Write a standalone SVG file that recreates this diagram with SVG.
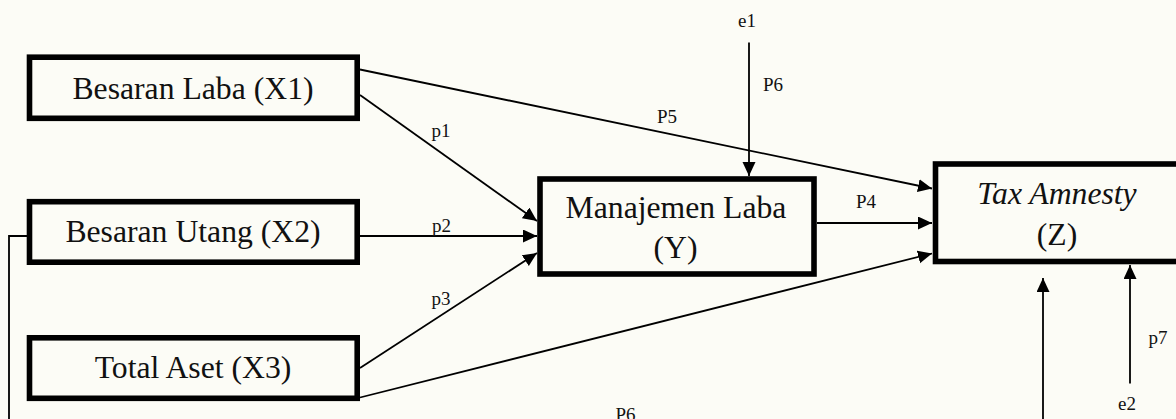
<svg xmlns="http://www.w3.org/2000/svg" width="1176" height="419" viewBox="0 0 1176 419">
  <style>
    .box { fill: #fcfcf6; stroke: #000; stroke-width: 5.6; }
    .big { font-family: "Liberation Serif", "Times New Roman", serif; font-size: 31.7px; fill: #111; text-anchor: middle; }
    .lbl { font-family: "Liberation Serif", "Times New Roman", serif; font-size: 19px; fill: #111; text-anchor: middle; }
    .ln { fill: none; stroke: #000; stroke-width: 1.8; }
    .arr { marker-end: url(#head); }
  </style>
  <defs>
    <marker id="head" markerUnits="userSpaceOnUse" markerWidth="15" markerHeight="14" refX="14" refY="6.5" orient="auto">
      <path d="M0,0 L14,6.5 L0,13 z" fill="#000"/>
    </marker>
  </defs>

  <rect width="1176" height="419" fill="#fcfcf6"/>

  <!-- connectors -->
  <g id="connectors">
    <line class="ln arr" x1="360" y1="95" x2="537" y2="221"/>
    <line class="ln arr" x1="360" y1="236" x2="537" y2="236"/>
    <line class="ln arr" x1="360" y1="368" x2="537" y2="253"/>
    <line class="ln arr" x1="360" y1="69.5" x2="932" y2="188.5"/>
    <line class="ln arr" x1="817" y1="223" x2="932" y2="223"/>
    <line class="ln arr" x1="360" y1="397.5" x2="932" y2="253.5"/>
    <line class="ln arr" x1="749" y1="42.5" x2="749" y2="176"/>
    <line class="ln arr" x1="1130" y1="383.5" x2="1130" y2="265"/>
    <line class="ln arr" x1="1043" y1="419" x2="1043" y2="278"/>
    <polyline class="ln" points="27,236 9,236 9,419"/>

    <text class="lbl" x="747" y="27">e1</text>
    <text class="lbl" x="773" y="91">P6</text>
    <text class="lbl" x="667" y="122.5">P5</text>
    <text class="lbl" x="441" y="136.5">p1</text>
    <text class="lbl" x="441.5" y="231.5">p2</text>
    <text class="lbl" x="441" y="305">p3</text>
    <text class="lbl" x="866" y="207.5">P4</text>
    <text class="lbl" x="1158" y="343.5">p7</text>
    <text class="lbl" x="1127" y="410">e2</text>
    <text class="lbl" x="625.5" y="420.5">P6</text>
  </g>

  <g id="x1">
    <rect class="box" x="29.5" y="57.2" width="327.7" height="61.1"/>
    <text class="big" x="193" y="99">Besaran Laba (X1)</text>
  </g>

  <g id="x2">
    <rect class="box" x="29.5" y="201.7" width="327.7" height="60.5"/>
    <text class="big" x="193" y="242.3">Besaran Utang (X2)</text>
  </g>

  <g id="x3">
    <rect class="box" x="29.5" y="337.8" width="327.7" height="60.5"/>
    <text class="big" x="193" y="378">Total Aset (X3)</text>
  </g>

  <g id="y">
    <rect class="box" x="540" y="179" width="274" height="95" stroke-width="6"/>
    <text class="big" x="676" y="218">Manajemen Laba</text>
    <text class="big" x="675.5" y="258.3">(Y)</text>
  </g>

  <g id="z">
    <rect class="box" x="935.5" y="164" width="270" height="97.5" stroke-width="6"/>
    <text class="big" x="1057" y="204" font-style="italic">Tax Amnesty</text>
    <text class="big" x="1057" y="245">(Z)</text>
  </g>
</svg>
